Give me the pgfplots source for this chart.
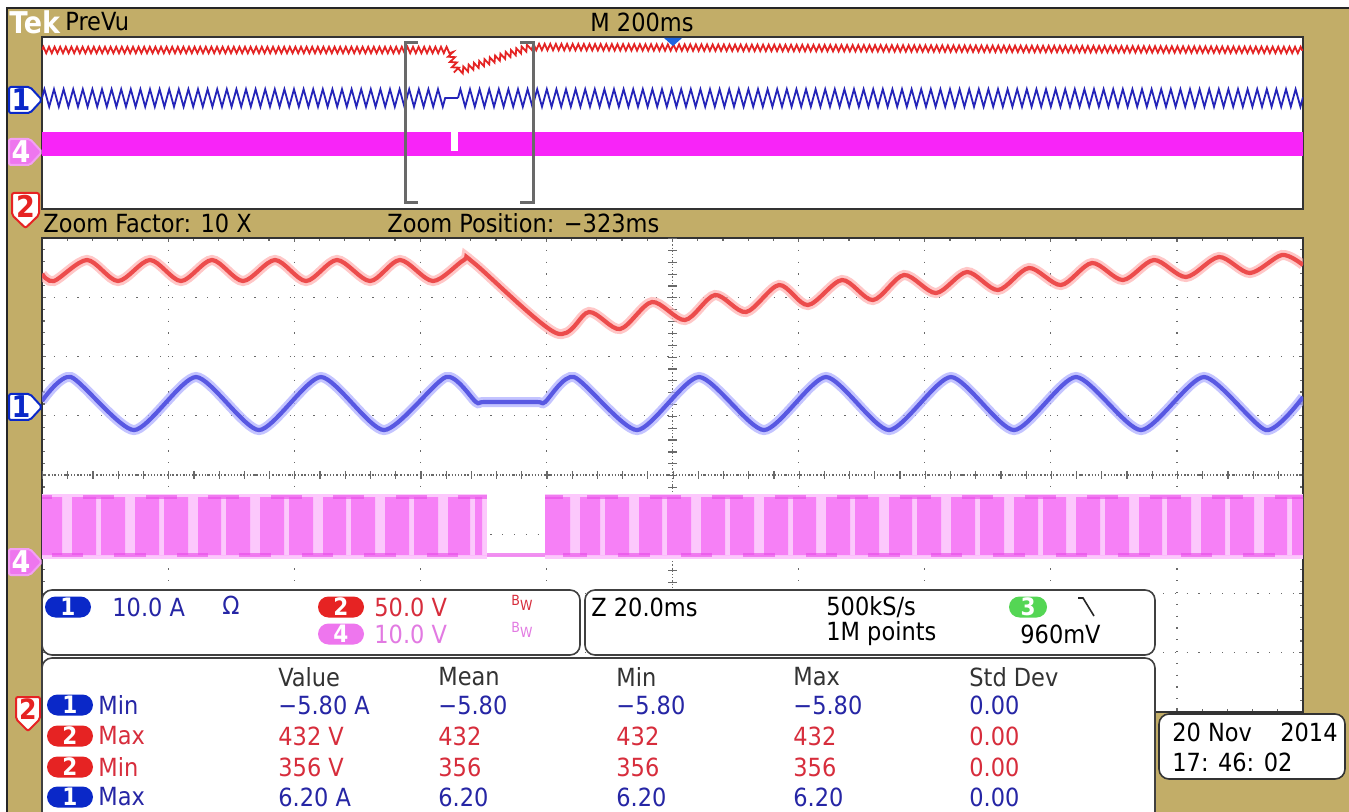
\documentclass[border=0pt]{standalone}
\usepackage{fontspec}
\setmainfont{DejaVu Sans Condensed}
\usepackage{pgfplots}
\usepackage{pgfplotstable}
\pgfplotsset{compat=1.18}
\usetikzlibrary{decorations.pathmorphing,shapes.misc}

\definecolor{tekbg}{RGB}{194,173,104}
\definecolor{trred}{RGB}{236,76,76}
\definecolor{trredl}{RGB}{255,176,176}
\definecolor{trblue}{RGB}{88,88,226}
\definecolor{trbluel}{RGB}{172,172,255}
\definecolor{trmag}{RGB}{246,128,246}
\definecolor{trmagl}{RGB}{252,200,252}
\definecolor{trmagd}{RGB}{232,72,232}
\definecolor{pvred}{RGB}{228,36,36}
\definecolor{pvblue}{RGB}{36,36,185}
\definecolor{pvmag}{RGB}{248,36,248}
\definecolor{txblue}{RGB}{38,38,165}
\definecolor{txred}{RGB}{215,45,60}
\definecolor{txmag}{RGB}{226,122,226}
\definecolor{bdgblue}{RGB}{10,40,200}
\definecolor{bdgred}{RGB}{230,35,35}
\definecolor{bdgmag}{RGB}{238,118,238}
\definecolor{bdggreen}{RGB}{84,214,84}
\definecolor{gridc}{RGB}{105,105,105}
\definecolor{brk}{RGB}{105,105,105}
\definecolor{trig}{RGB}{30,100,225}

% zoom window traces, in screen pixels (x to the right, y downwards)
\pgfplotstableread{
x y
42 274
54 281
87 260
118 281
150 260
181 281
212 260
243 281
275 260
306 281
337 260
370 281
400 260
433 281
464 260
474 263
556 333
589 312
620 329
652 302
685 320
715 295
746 312
779 285
808 305
842 280
873 300
904 275
936 293
967 272
998 290
1029 268
1061 285
1092 263
1123 280
1154 260
1186 277
1219 257
1250 273
1282 255
1303 265
}\redzoom

\pgfplotstableread{
x y
42 401
71 377
134 430
196 377
259 430
321 377
384 430
446 377
476 402
484 402
537 402
545 402
574 377
637 430
699 377
764 430
826 377
889 430
951 377
1014 430
1076 377
1141 430
1204 377
1266 430
1303 397
}\bluezoom

\begin{document}
\fontsize{12.5}{15}\selectfont
\begin{tikzpicture}[
  badge/.style={rounded rectangle, fill=#1, text=white, font=\fontsize{12}{12}\selectfont\bfseries,
    minimum width=23pt, minimum height=10.5pt, inner sep=0pt},
  lbl/.style={anchor=west, inner sep=0pt}]

\begin{scope}[x=0.5pt,y=-0.5pt]
  \fill[white] (0,0) rectangle (1349,812);
  \fill[tekbg] (7,8) rectangle (1349,812);
  \draw[black!85, line width=1pt] (7,812) -- (7,8) -- (1349,8);
  \node[lbl, text=white, font=\fontsize{15}{15}\selectfont\bfseries] at (9,22) {Tek};
  \node[lbl] at (65,22) {PreVu};
  \node[inner sep=0pt] at (642,22) {M 200ms};
  \node[lbl] at (43,223) {Zoom Factor: 10 X};
  \node[lbl] at (387,223) {Zoom Position: −323ms};
\end{scope}

% PreVu strip (whole record)
\begin{axis}[at={(21pt,-18.5pt)}, anchor=north west, scale only axis,
  width=630.5pt, height=86pt,
  xmin=42, xmax=1303, ymin=37, ymax=209, y dir=reverse,
  axis background/.style={fill=white},
  axis line style={line width=0.9pt, black!80},
  ticks=none]
\addplot[pvred, line width=0.9pt, decorate,
  decoration={zigzag, segment length=2.8pt, amplitude=1.6pt}]
  coordinates {(42,50) (449,50) (457,72) (530,47) (1303,50)};
\addplot[pvblue, line width=0.9pt, decorate,
  decoration={zigzag, segment length=4.8pt, amplitude=4.4pt}]
  coordinates {(42,98) (448,98)};
\addplot[pvblue, line width=0.9pt] coordinates {(448,98) (458,98)};
\addplot[pvblue, line width=0.9pt, decorate,
  decoration={zigzag, segment length=4.8pt, amplitude=4.4pt}]
  coordinates {(458,98) (1303,98)};
\addplot[fill=pvmag, draw=none] coordinates {(42,132) (1303,132) (1303,156) (42,156)} -- cycle;
\addplot[fill=white, draw=none] coordinates {(451,132) (458,132) (458,151) (451,151)} -- cycle;
\draw[brk, line width=1.5pt] (418,43) -- (405,43) -- (405,203) -- (418,203);
\draw[brk, line width=1.5pt] (520,43) -- (533,43) -- (533,203) -- (520,203);
\fill[trig] (664,38) -- (682,38) -- (673,46) -- cycle;
\end{axis}

% zoom window
\begin{axis}[at={(21pt,-119pt)}, anchor=north west, scale only axis,
  width=630.5pt, height=237pt,
  xmin=42, xmax=1303, ymin=238, ymax=712, y dir=reverse,
  axis background/.style={fill=white},
  axis line style={line width=1pt, black!80},
  xtick={42,168.1,...,1303}, ytick={238,297.25,...,712},
  minor xtick={42,67.22,...,1303}, minor ytick={238,249.85,...,712},
  xticklabels={}, yticklabels={},
  tick align=inside, major tick length=2.2pt, minor tick length=1.6pt,
  tick style={gridc, line width=0.6pt},
  grid=major,
  major grid style={gridc, line width=0.6pt, dash pattern=on 0.6pt off 5.3pt}]
\draw[gridc, line width=0.6pt, dash pattern=on 0.6pt off 1pt] (672.5,238) -- (672.5,712);
\draw[gridc, line width=0.6pt, dash pattern=on 0.6pt off 1pt] (42,475) -- (1303,475);
\draw[gridc, line width=4pt, dash pattern=on 0.6pt off 12.01pt] (42,475) -- (1303,475);
\draw[gridc, line width=4.5pt, dash pattern=on 0.6pt off 5.325pt] (672.5,238) -- (672.5,712);

% ch4
\addplot[fill=trmagl, draw=none] coordinates {(42,494) (487,494) (487,559) (42,559)} -- cycle;
\addplot[fill=trmagl, draw=none] coordinates {(545,494) (1303,494) (1303,559) (545,559)} -- cycle;
\addplot[const plot, fill=trmag, draw=none] coordinates {
 (42,497) (62,555) (72,497) (96,555) (101,497) (125,555) (135,497) (159,555) (164,497)
 (188,555) (198,497) (221,555) (226,497) (250,555) (260,497) (284,555) (289,497)
 (313,555) (323,497) (346,555) (351,497) (375,555) (385,497) (409,555) (414,497)
 (438,555) (448,497) (470,555) (475,497) (482,555) (545,497) (570,555) (580,497)
 (600,555) (605,497) (629,555) (639,497) (662,555) (667,497) (691,555) (701,497)
 (725,555) (730,497) (754,555) (764,497) (788,555) (793,497) (816,555) (826,497)
 (850,555) (855,497) (879,555) (889,497) (912,555) (917,497) (941,555) (951,497)
 (975,555) (980,497) (1004,555) (1014,497) (1038,555) (1043,497) (1066,555) (1076,497)
 (1100,555) (1105,497) (1129,555) (1139,497) (1162,555) (1167,497) (1191,555) (1201,497)
 (1225,555) (1230,497) (1254,555) (1264,497) (1287,555) (1292,497) (1303,497)}
 -- (axis cs:1303,555) -- (axis cs:42,555) -- cycle;
\addplot[jump mark left, trmagd, line width=1.6pt, opacity=0.6] coordinates {
 (42,497) (51.5,555) (83,497) (114,555) (146,497) (177,555) (208,497) (239,555)
 (271,497) (302,555) (333,497) (364,555) (396,497) (427,555) (458,497) (487,555)
 (545,497) (563,555) (587,497) (618,555) (649.5,497) (680.5,555) (712,497) (743,555)
 (774.5,497) (805.5,555) (837,497) (868,555) (899.5,497) (930.5,555) (962,497)
 (993,555) (1024.5,497) (1055.5,555) (1087,497) (1118,555) (1149.5,497) (1180.5,555)
 (1212,497) (1243,555) (1274.5,497) (1303,497)};

% ch2
\addplot[trredl, line width=5pt, opacity=0.7, smooth, tension=0.5] table {\redzoom};
\addplot[trred, line width=2.1pt, smooth, tension=0.5] table {\redzoom};
% ch1
\addplot[trbluel, line width=5pt, opacity=0.7, smooth, tension=0.4] table {\bluezoom};
\addplot[trblue, line width=2.1pt, smooth, tension=0.4] table {\bluezoom};
\end{axis}

\begin{scope}[x=0.5pt,y=-0.5pt]
  % channel markers
  \foreach \yc in {100,407} {
    \draw[fill=white, draw=bdgblue, line width=1pt, rounded corners=1pt]
      (9,\yc-13) -- (30,\yc-13) -- (42,\yc) -- (30,\yc+13) -- (9,\yc+13) -- cycle;
    \node[text=bdgblue, font=\fontsize{15}{15}\selectfont\bfseries, inner sep=0pt] at (21,\yc) {1};
  }
  \foreach \yc in {152,562} {
    \draw[fill=bdgmag, draw=bdgmag!70!white, line width=1pt, rounded corners=1pt]
      (9,\yc-13) -- (30,\yc-13) -- (42,\yc) -- (30,\yc+13) -- (9,\yc+13) -- cycle;
    \node[text=white, font=\fontsize{15}{15}\selectfont\bfseries, inner sep=0pt] at (21,\yc) {4};
  }
  \draw[fill=white, draw=bdgred, line width=1pt, rounded corners=1pt]
    (12,193) -- (39,193) -- (39,215) -- (25.5,228) -- (12,215) -- cycle;
  \node[text=bdgred, font=\fontsize{15}{15}\selectfont\bfseries, inner sep=0pt] at (25.5,206) {2};
  \draw[fill=white, draw=bdgred, line width=1pt, rounded corners=1pt]
    (16,697) -- (40,697) -- (40,719) -- (28,731) -- (16,719) -- cycle;
  \node[text=bdgred, font=\fontsize{14}{14}\selectfont\bfseries, inner sep=0pt] at (28,709) {2};

  % vertical scale readout
  \draw[fill=white, draw=black!75, line width=0.8pt, rounded corners=5pt] (42,590) rectangle (580,655);
  \node[badge=bdgblue] at (68,607) {1};
  \node[lbl, text=txblue] at (112,607) {10.0 A};
  \node[lbl, text=txblue] at (222,605) {Ω};
  \node[badge=bdgred] at (341,607) {2};
  \node[lbl, text=txred] at (374,607) {50.0 V};
  \node[lbl, text=txred, font=\fontsize{7}{7}\selectfont] at (511,603) {B\raisebox{-2.5pt}{W}};
  \node[badge=bdgmag] at (341,634) {4};
  \node[lbl, text=txmag] at (374,634) {10.0 V};
  \node[lbl, text=txmag, font=\fontsize{7}{7}\selectfont] at (511,630) {B\raisebox{-2.5pt}{W}};

  % horizontal / trigger readout
  \draw[fill=white, draw=black!75, line width=0.8pt, rounded corners=5pt] (585,590) rectangle (1155,655);
  \node[lbl] at (591,607) {Z 20.0ms};
  \node[lbl] at (826,607) {500kS/s};
  \node[lbl] at (826,634) {1M points};
  \node[badge=bdggreen, minimum width=19pt] at (1028,607) {3};
  \draw[black!85, line width=0.8pt] (1078,598) -- (1083,598) -- (1094,616);
  \node[anchor=east, inner sep=0pt] at (1101,634) {960mV};

  % measurements
  \draw[fill=white, draw=black!75, line width=0.8pt, rounded corners=5pt] (42,658) rectangle (1155,840);
  \node[lbl, text=black!80] at (278,677) {Value};
  \node[lbl, text=black!80] at (438,677) {Mean};
  \node[lbl, text=black!80] at (616,677) {Min};
  \node[lbl, text=black!80] at (793,677) {Max};
  \node[lbl, text=black!80] at (969,677) {Std Dev};

  \node[badge=bdgblue] at (70,705) {1};
  \node[lbl, text=txblue] at (98,705) {Min};
  \node[lbl, text=txblue] at (278,705) {−5.80 A};
  \node[lbl, text=txblue] at (438,705) {−5.80};
  \node[lbl, text=txblue] at (616,705) {−5.80};
  \node[lbl, text=txblue] at (793,705) {−5.80};
  \node[lbl, text=txblue] at (969,705) {0.00};

  \node[badge=bdgred] at (70,736) {2};
  \node[lbl, text=txred] at (98,736) {Max};
  \node[lbl, text=txred] at (278,736) {432 V};
  \node[lbl, text=txred] at (438,736) {432};
  \node[lbl, text=txred] at (616,736) {432};
  \node[lbl, text=txred] at (793,736) {432};
  \node[lbl, text=txred] at (969,736) {0.00};

  \node[badge=bdgred] at (70,767) {2};
  \node[lbl, text=txred] at (98,767) {Min};
  \node[lbl, text=txred] at (278,767) {356 V};
  \node[lbl, text=txred] at (438,767) {356};
  \node[lbl, text=txred] at (616,767) {356};
  \node[lbl, text=txred] at (793,767) {356};
  \node[lbl, text=txred] at (969,767) {0.00};

  \node[badge=bdgblue] at (70,797) {1};
  \node[lbl, text=txblue] at (98,797) {Max};
  \node[lbl, text=txblue] at (278,797) {6.20 A};
  \node[lbl, text=txblue] at (438,797) {6.20};
  \node[lbl, text=txblue] at (616,797) {6.20};
  \node[lbl, text=txblue] at (793,797) {6.20};
  \node[lbl, text=txblue] at (969,797) {0.00};

  % date
  \draw[fill=white, draw=black!80, line width=0.8pt, rounded corners=5pt] (1159,714) rectangle (1345,779);
  \node[lbl] at (1172,732) {20 Nov};
  \node[anchor=east, inner sep=0pt] at (1338,732) {2014};
  \node[lbl] at (1172,762) {17: 46: 02};
\end{scope}

\pgfresetboundingbox
\useasboundingbox (0,0) rectangle (674.5pt,-406pt);
\end{tikzpicture}
\end{document}
